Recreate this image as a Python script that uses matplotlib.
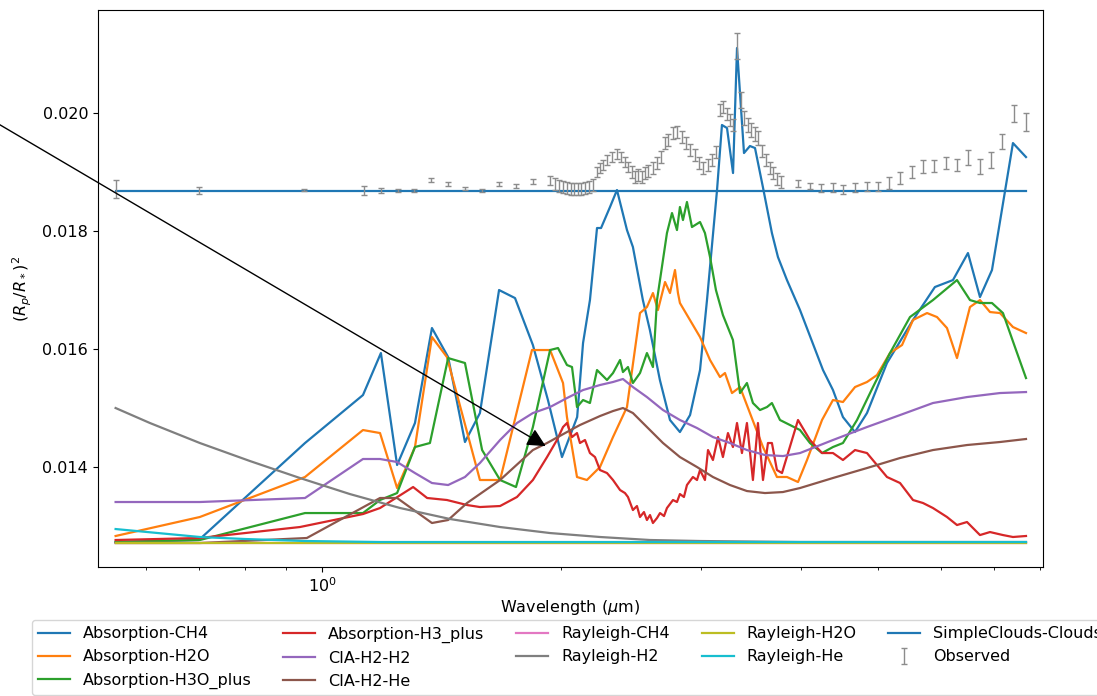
import numpy as np
import matplotlib
matplotlib.use("Agg")
import matplotlib.pyplot as plt

plt.rcParams['font.size'] = 11.5

# model contributions, wavelength in micron, depth in units of 1e-3
ch4_wl = [0.55, 0.700, 0.952, 1.126, 1.186, 1.243, 1.309, 1.375, 1.441, 1.513, 1.580, 1.670, 1.749, 1.842, 1.924,
          2.004, 2.094, 2.130, 2.173, 2.218, 2.244, 2.303, 2.350, 2.419, 2.461, 2.533, 2.585, 2.661, 2.740, 2.820,
          2.904, 2.989, 3.050, 3.140, 3.185, 3.232, 3.289, 3.327, 3.395, 3.454, 3.505, 3.586, 3.681, 3.746, 3.845,
          3.993, 4.268, 4.393, 4.522, 4.682, 4.848, 5.137, 5.539, 5.902, 6.219, 6.495, 6.725, 6.963, 7.399, 7.684]
ch4_val = [12.729, 12.763, 14.407, 15.220, 15.932, 14.034, 14.746, 16.356, 15.864, 14.424, 14.915, 17.000, 16.864,
           16.068, 15.136, 14.169, 14.847, 16.102, 16.830, 18.051, 18.051, 18.407, 18.695, 18.017, 17.729, 16.830,
           16.322, 15.475, 14.797, 14.593, 14.881, 15.644, 16.830, 18.695, 19.797, 19.746, 18.983, 21.102, 19.322,
           19.441, 19.407, 18.746, 17.966, 17.559, 17.169, 16.661, 15.644, 15.305, 14.847, 14.593, 14.915, 15.763,
           16.492, 17.051, 17.169, 17.627, 16.881, 17.339, 19.491, 19.254]

h2o_wl = [0.55, 0.702, 0.952, 1.126, 1.183, 1.243, 1.309, 1.375, 1.436, 1.580, 1.675, 1.837, 1.936, 2.010, 2.033,
          2.093, 2.154, 2.237, 2.323, 2.419, 2.512, 2.563, 2.608, 2.646, 2.701, 2.740, 2.780, 2.804, 2.820, 2.989,
          3.077, 3.167, 3.213, 3.279, 3.356, 3.454, 3.587, 3.735, 3.845, 3.970, 4.075, 4.256, 4.393, 4.522, 4.683,
          4.848, 4.991, 5.182, 5.366, 5.539, 5.769, 5.938, 6.112, 6.292, 6.533, 6.725, 6.923, 7.126, 7.399, 7.684]
h2o_val = [12.831, 13.153, 13.831, 14.627, 14.576, 13.644, 14.339, 16.203, 15.864, 13.780, 13.780, 15.983, 15.983,
           15.424, 14.847, 13.831, 13.780, 14.000, 14.508, 15.017, 16.610, 16.712, 16.949, 16.661, 17.136, 16.949,
           17.339, 16.949, 16.780, 16.203, 15.814, 15.525, 15.593, 15.254, 15.356, 14.915, 14.339, 13.831, 13.831,
           13.746, 14.119, 14.797, 15.136, 15.102, 15.356, 15.441, 15.559, 15.932, 16.068, 16.492, 16.610, 16.542,
           16.356, 15.847, 16.712, 16.830, 16.627, 16.610, 16.373, 16.271]

h3o_wl = [0.55, 0.702, 0.952, 1.126, 1.183, 1.243, 1.309, 1.367, 1.441, 1.513, 1.590, 1.675, 1.754, 1.842, 1.936,
          1.981, 2.033, 2.063, 2.093, 2.130, 2.173, 2.218, 2.283, 2.323, 2.371, 2.391, 2.426, 2.461, 2.512, 2.563,
          2.608, 2.639, 2.716, 2.756, 2.796, 2.820, 2.845, 2.878, 2.920, 2.989, 3.032, 3.077, 3.130, 3.194, 3.288,
          3.356, 3.424, 3.484, 3.556, 3.629, 3.681, 3.768, 3.993, 4.110, 4.256, 4.393, 4.522, 4.710, 4.933, 5.182,
          5.491, 5.869, 6.292, 6.533, 6.725, 6.963, 7.188, 7.442, 7.684]
h3o_val = [12.729, 12.763, 13.220, 13.220, 13.441, 13.559, 14.339, 14.407, 15.847, 15.763, 14.288, 13.780, 13.661,
           14.678, 15.983, 16.017, 15.729, 15.695, 15.017, 15.136, 15.085, 15.644, 15.475, 15.593, 15.814, 15.610,
           15.695, 15.424, 15.593, 15.932, 15.695, 16.830, 17.966, 18.305, 18.017, 18.407, 18.186, 18.492, 18.068,
           18.153, 17.966, 17.559, 17.000, 16.576, 16.153, 15.254, 15.424, 15.085, 14.966, 15.017, 15.085, 14.797,
           14.627, 14.407, 14.237, 14.339, 14.407, 14.797, 15.356, 15.932, 16.542, 16.830, 17.169, 16.830, 16.780,
           16.780, 16.610, 16.034, 15.508]

h3p_wl = [0.55, 0.702, 0.938, 1.126, 1.183, 1.302, 1.356, 1.436, 1.522, 1.580, 1.675, 1.759, 1.842, 1.919, 1.975,
          2.010, 2.033, 2.063, 2.093, 2.111, 2.142, 2.173, 2.205, 2.237, 2.283, 2.323, 2.371, 2.405, 2.426, 2.461,
          2.490, 2.512, 2.541, 2.563, 2.586, 2.608, 2.639, 2.662, 2.693, 2.716, 2.764, 2.796, 2.820, 2.853, 2.878,
          2.928, 2.963, 2.989, 3.032, 3.059, 3.103, 3.149, 3.194, 3.241, 3.288, 3.327, 3.375, 3.424, 3.484, 3.535,
          3.587, 3.639, 3.681, 3.735, 3.790, 3.970, 4.110, 4.256, 4.393, 4.522, 4.683, 4.848, 5.137, 5.335, 5.539,
          5.702, 5.869, 6.112, 6.292, 6.477, 6.725, 6.923, 7.188, 7.399, 7.684]
h3p_val = [12.763, 12.797, 12.983, 13.203, 13.305, 13.661, 13.475, 13.441, 13.356, 13.322, 13.339, 13.492, 13.780,
           14.169, 14.458, 14.678, 14.746, 14.508, 14.576, 14.407, 14.458, 14.237, 14.169, 13.949, 13.898, 13.780,
           13.610, 13.559, 13.492, 13.271, 13.339, 13.153, 13.237, 13.102, 13.186, 13.051, 13.136, 13.220, 13.169,
           13.305, 13.441, 13.407, 13.542, 13.492, 13.695, 13.831, 13.780, 13.949, 13.780, 14.288, 14.119, 14.508,
           14.169, 14.576, 14.339, 14.746, 14.237, 14.746, 13.780, 14.746, 13.780, 14.407, 14.407, 13.949, 13.898,
           14.797, 14.458, 14.237, 14.237, 14.119, 14.288, 14.237, 13.831, 13.729, 13.441, 13.390, 13.305, 13.153,
           13.017, 13.068, 12.847, 12.898, 12.847, 12.814, 12.831]

cia_wl = [0.55, 0.702, 0.952, 1.126, 1.183, 1.243, 1.309, 1.375, 1.441, 1.513, 1.580, 1.675, 1.759, 1.842, 1.936,
          2.033, 2.130, 2.237, 2.323, 2.391, 2.461, 2.563, 2.685, 2.820, 2.963, 3.103, 3.260, 3.424, 3.608, 3.800,
          3.993, 4.393, 4.848, 5.335, 5.869, 6.477, 7.126, 7.684]
cia_h2h2_val = [13.407, 13.407, 13.475, 14.136, 14.136, 14.085, 13.898, 13.729, 13.695, 13.831, 14.068, 14.458,
                14.746, 14.915, 15.017, 15.169, 15.305, 15.390, 15.441, 15.492, 15.356, 15.186, 14.966, 14.797,
                14.661, 14.508, 14.407, 14.288, 14.203, 14.186, 14.237, 14.458, 14.678, 14.881, 15.085, 15.186,
                15.254, 15.271]

ciahe_wl = [0.55, 0.702, 0.957, 1.183, 1.243, 1.375, 1.441, 1.522, 1.675, 1.842, 1.919, 2.033, 2.111, 2.237, 2.323,
            2.391, 2.461, 2.563, 2.685, 2.820, 2.963, 3.103, 3.260, 3.424, 3.608, 3.800, 3.993, 4.393, 4.848, 5.335,
            5.869, 6.477, 7.126, 7.684]
cia_h2he_val = [12.712, 12.712, 12.797, 13.475, 13.475, 13.051, 13.102, 13.390, 13.780, 14.288, 14.407, 14.593,
                14.712, 14.864, 14.949, 15.000, 14.915, 14.678, 14.407, 14.169, 14.000, 13.831, 13.695, 13.593,
                13.559, 13.576, 13.644, 13.814, 13.983, 14.153, 14.288, 14.373, 14.424, 14.475]

ray_h2_wl = [0.55, 0.6075, 0.702, 0.8115, 0.938, 1.084, 1.254, 1.449, 1.675, 1.936, 2.237, 2.586, 2.989, 3.993, 7.684]
ray_h2_val = [15.000, 14.746, 14.407, 14.102, 13.814, 13.542, 13.305, 13.119, 12.983, 12.881, 12.814, 12.763,
              12.746, 12.729, 12.729]

ray_he_wl = [0.55, 0.702, 0.80, 0.952, 1.183, 7.684]
ray_he_val = [12.949, 12.814, 12.780, 12.746, 12.729, 12.729]

flat_wl = [0.55, 7.684]
ray_ch4_val = [12.712, 12.712]
ray_h2o_val = [12.712, 12.712]
clouds_val = [18.686, 18.686]

# observed spectrum
obs_wl = [0.551, 0.700, 0.949, 1.129, 1.186, 1.246, 1.306, 1.371, 1.441, 1.513, 1.590, 1.670, 1.754, 1.843, 1.936,
          1.964, 1.987, 2.010, 2.033, 2.057, 2.075, 2.099, 2.117, 2.142, 2.167, 2.192, 2.218, 2.237, 2.257, 2.283,
          2.316, 2.350, 2.377, 2.405, 2.426, 2.454, 2.476, 2.497, 2.527, 2.549, 2.571, 2.608, 2.639, 2.669, 2.701,
          2.724, 2.764, 2.796, 2.837, 2.870, 2.903, 2.946, 2.980, 3.015, 3.059, 3.095, 3.131, 3.167, 3.195, 3.232,
          3.260, 3.289, 3.327, 3.366, 3.395, 3.435, 3.465, 3.505, 3.535, 3.577, 3.618, 3.661, 3.692, 3.735, 3.779,
          3.970, 4.110, 4.243, 4.393, 4.523, 4.683, 4.848, 5.005, 5.167, 5.335, 5.523, 5.702, 5.886, 6.095, 6.292,
          6.496, 6.726, 6.943, 7.168, 7.422, 7.684]
obs_val = [18.712, 18.686, 18.695, 18.686, 18.686, 18.686, 18.686, 18.864, 18.797, 18.720, 18.695, 18.797, 18.763,
           18.839, 18.856,
           18.797, 18.763, 18.746, 18.729, 18.720, 18.712, 18.712, 18.720, 18.729, 18.746, 18.780, 19.000, 19.068,
           19.119, 19.203, 19.254, 19.305, 19.254, 19.169, 19.085, 19.000, 18.915, 18.949, 18.915, 18.983, 19.017,
           19.068, 19.153, 19.254, 19.491, 19.542, 19.661, 19.678, 19.593, 19.491, 19.373, 19.288, 19.153, 19.068,
           19.119, 19.203, 19.339, 20.051, 20.102, 19.983, 19.881, 19.797, 21.136, 20.220, 19.915, 19.797, 19.712,
           19.644, 19.576, 19.356, 19.203, 19.068, 18.983, 18.881, 18.830,
           18.805, 18.763, 18.729, 18.737, 18.712, 18.737, 18.754, 18.763, 18.814, 18.898, 19.000, 19.093, 19.102,
           19.153, 19.119, 19.246, 19.102, 19.203, 19.525, 20.000, 19.847]
obs_err = [0.153, 0.059, 0.017, 0.076, 0.042, 0.025, 0.025, 0.034, 0.034, 0.025, 0.025, 0.034, 0.034, 0.042, 0.076,
           0.102, 0.102, 0.102, 0.102, 0.102, 0.102, 0.102, 0.102, 0.102, 0.102, 0.102,
           0.085, 0.085, 0.085, 0.085, 0.085, 0.085, 0.085, 0.085, 0.085,
           0.102, 0.102, 0.102, 0.102, 0.102, 0.102, 0.102, 0.102, 0.102, 0.102, 0.102,
           0.102, 0.102, 0.102, 0.102, 0.102, 0.102, 0.102, 0.102, 0.102, 0.102, 0.102,
           0.102, 0.102, 0.102, 0.102, 0.102, 0.220, 0.136, 0.119, 0.119, 0.119, 0.119, 0.119,
           0.102, 0.102, 0.102, 0.102, 0.102, 0.102,
           0.059, 0.051, 0.068, 0.076, 0.076, 0.076, 0.076, 0.076, 0.102, 0.102, 0.102, 0.110, 0.102, 0.102, 0.102,
           0.119, 0.127, 0.136, 0.127, 0.144, 0.153]

# arrow tip (wavelength, depth)
arrow_tip = (1.925, 14.330)

series = [
    ("Absorption-CH4", ch4_wl, ch4_val),
    ("Absorption-H2O", h2o_wl, h2o_val),
    ("Absorption-H3O_plus", h3o_wl, h3o_val),
    ("Absorption-H3_plus", h3p_wl, h3p_val),
    ("CIA-H2-H2", cia_wl, cia_h2h2_val),
    ("CIA-H2-He", ciahe_wl, cia_h2he_val),
    ("Rayleigh-CH4", flat_wl, ray_ch4_val),
    ("Rayleigh-H2", ray_h2_wl, ray_h2_val),
    ("Rayleigh-H2O", flat_wl, ray_h2o_val),
    ("Rayleigh-He", ray_he_wl, ray_he_val),
    ("SimpleClouds-Clouds", flat_wl, clouds_val),
]

fig = plt.figure(figsize=(10.97, 6.96), dpi=100)
ax = fig.add_axes([0.0893, 0.1853, 0.8614, 0.8003])

for name, wl, val in series:
    ax.plot(wl, np.array(val) * 1e-3, lw=1.6, label=name)

ax.errorbar(obs_wl, np.array(obs_val) * 1e-3, yerr=np.array(obs_err) * 1e-3,
            fmt='none', ecolor='#8c8c8c', elinewidth=1, capsize=2.5, label="Observed")

ax.set_xscale('log')
ax.set_xlim(0.5226, 8.07)
ax.set_ylim(0.012305, 0.021746)
ax.set_yticks([0.014, 0.016, 0.018, 0.020])
ax.set_xlabel(r"Wavelength ($\mu$m)", labelpad=2)
ax.set_ylabel(r"$(R_p/R_*)^2$", labelpad=6)

ax.annotate("", xy=(arrow_tip[0], arrow_tip[1] * 1e-3), xycoords='data',
            xytext=(-0.05, 0.867), textcoords='figure fraction',
            arrowprops=dict(arrowstyle='-|>', color='black', lw=1, mutation_scale=28),
            annotation_clip=False)

fig.legend(*ax.get_legend_handles_labels(), loc='upper center', ncol=5,
           bbox_to_anchor=(570 / 1097, 1 - 612 / 696), bbox_transform=fig.transFigure)

fig.savefig("out.png", dpi=100)
